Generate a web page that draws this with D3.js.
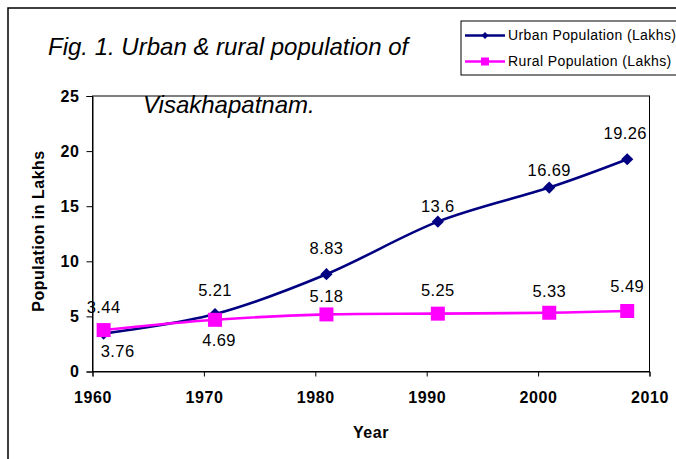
<!DOCTYPE html>
<html>
<head>
<meta charset="utf-8">
<script src="https://cdn.jsdelivr.net/npm/d3@7"></script>
<style>
  body { margin: 0; background: #fff; }
  svg text { font-family: "Liberation Sans", Arial, sans-serif; }
</style>
</head>
<body>
<div id="chart"></div>
<script>
  const width = 676;
  const height = 459;

  // data
  const years = [1961, 1971, 1981, 1991, 2001, 2008];
  const urban = [3.44, 5.21, 8.83, 13.6, 16.69, 19.26];
  const rural = [3.76, 4.69, 5.18, 5.25, 5.33, 5.49];
  const xTicks = [1960, 1970, 1980, 1990, 2000, 2010];
  const yTicks = [0, 5, 10, 15, 20, 25];
  const seriesNames = ["Urban Population (Lakhs)", "Rural Population (Lakhs)"];

  // label nudges (px, relative to the marker)
  const urbanLabelDx = [0, 0, 0, 0, 0, -2];
  const urbanLabelDy = [-26, -24, -26, -15, -17, -26];
  const ruralLabelDx = [14, 4, 0, 0, 0, 0];
  const ruralLabelDy = [21, 20, -18, -23, -22, -25];

  const plot = { left: 92.5, right: 649.5, top: 96, bottom: 371.5 };

  const svg = d3.select("#chart")
    .append("svg")
    .attr("width", width)
    .attr("height", height);

  svg.append("rect")
    .attr("width", width).attr("height", height)
    .attr("fill", "#fff");

  // outer chart frame (runs past the right/bottom edge)
  svg.append("rect")
    .attr("x", 8).attr("y", 8)
    .attr("width", 720).attr("height", 520)
    .attr("fill", "none")
    .attr("stroke", "#000")
    .attr("stroke-width", 1.5);

  const x = d3.scaleLinear()
    .domain([1960, 2010])
    .range([plot.left, plot.right]);

  const y = d3.scaleLinear()
    .domain([0, 25])
    .range([plot.bottom, plot.top]);

  // plot area border
  svg.append("rect")
    .attr("x", plot.left).attr("y", plot.top)
    .attr("width", plot.right - plot.left)
    .attr("height", plot.bottom - plot.top)
    .attr("fill", "#fff")
    .attr("stroke", "#000")
    .attr("stroke-width", 1);

  // X axis
  const xAxis = svg.append("g")
    .attr("transform", `translate(0,${plot.bottom})`)
    .call(d3.axisBottom(x).tickValues(xTicks).tickFormat(d3.format("d")).tickSizeOuter(0).tickSize(5).tickPadding(15));
  xAxis.select(".domain").attr("stroke", "#000");
  xAxis.selectAll("text")
    .attr("font-size", "16px")
    .attr("font-weight", "bold")
    .attr("letter-spacing", "0.6px")
    .attr("fill", "#000");

  // Y axis
  const yAxis = svg.append("g")
    .attr("transform", `translate(${plot.left},0)`)
    .call(d3.axisLeft(y).tickValues(yTicks).tickSizeOuter(0).tickSize(6).tickPadding(7));
  yAxis.select(".domain").attr("stroke", "#000");
  yAxis.selectAll("text")
    .attr("font-size", "16px")
    .attr("font-weight", "bold")
    .attr("letter-spacing", "0.6px")
    .attr("fill", "#000");

  // axis titles
  svg.append("text")
    .attr("x", (plot.left + plot.right) / 2)
    .attr("y", 438)
    .attr("text-anchor", "middle")
    .attr("font-size", "16px")
    .attr("font-weight", "bold")
    .attr("letter-spacing", "0.6px")
    .text("Year");

  svg.append("text")
    .attr("transform", "translate(44,231) rotate(-90)")
    .attr("text-anchor", "middle")
    .attr("font-size", "16px")
    .attr("font-weight", "bold")
    .attr("letter-spacing", "0.5px")
    .text("Population in Lakhs");

  const line = d3.line()
    .x(d => x(d[0]))
    .y(d => y(d[1]))
    .curve(d3.curveCatmullRom.alpha(0));

  const urbanPts = years.map((yr, i) => [yr, urban[i]]);
  const ruralPts = years.map((yr, i) => [yr, rural[i]]);

  const navy = "#000080";
  const magenta = "#ff00ff";

  // urban series
  svg.append("path")
    .datum(urbanPts)
    .attr("d", line)
    .attr("fill", "none")
    .attr("stroke", navy)
    .attr("stroke-width", 2.6);

  svg.append("g")
    .selectAll("path")
    .data(urbanPts)
    .join("path")
    .attr("d", d3.symbol(d3.symbolDiamond2, 95))
    .attr("transform", d => `translate(${x(d[0])},${y(d[1])})`)
    .attr("fill", navy);

  // rural series
  svg.append("path")
    .datum(ruralPts)
    .attr("d", line)
    .attr("fill", "none")
    .attr("stroke", magenta)
    .attr("stroke-width", 2.6);

  svg.append("g")
    .selectAll("rect")
    .data(ruralPts)
    .join("rect")
    .attr("x", d => x(d[0]) - 7)
    .attr("y", d => y(d[1]) - 7)
    .attr("width", 14)
    .attr("height", 14)
    .attr("fill", magenta);

  // data labels
  svg.append("g")
    .selectAll("text")
    .data(urbanPts)
    .join("text")
    .attr("x", (d, i) => x(d[0]) + urbanLabelDx[i])
    .attr("y", (d, i) => y(d[1]) + urbanLabelDy[i])
    .attr("dy", "0.35em")
    .attr("text-anchor", "middle")
    .attr("font-size", "16.5px")
    .attr("letter-spacing", "0.4px")
    .text(d => d[1]);

  svg.append("g")
    .selectAll("text")
    .data(ruralPts)
    .join("text")
    .attr("x", (d, i) => x(d[0]) + ruralLabelDx[i])
    .attr("y", (d, i) => y(d[1]) + ruralLabelDy[i])
    .attr("dy", "0.35em")
    .attr("text-anchor", "middle")
    .attr("font-size", "16.5px")
    .attr("letter-spacing", "0.4px")
    .text(d => d[1]);

  // title (two lines, italic)
  svg.append("text")
    .attr("x", 48).attr("y", 55)
    .attr("font-size", "24px")
    .attr("font-style", "italic")
    .text("Fig. 1. Urban & rural population of");

  svg.append("text")
    .attr("x", 143).attr("y", 113)
    .attr("font-size", "24px")
    .attr("font-style", "italic")
    .text("Visakhapatnam.");

  // legend
  const legend = svg.append("g");
  legend.append("rect")
    .attr("x", 461).attr("y", 21)
    .attr("width", 260).attr("height", 54)
    .attr("fill", "#fff")
    .attr("stroke", "#000")
    .attr("stroke-width", 1);

  const legendRows = [
    { name: seriesNames[0], color: navy, shape: "diamond" },
    { name: seriesNames[1], color: magenta, shape: "square" }
  ];

  legendRows.forEach((r, i) => {
    const ly = 35.5 + i * 26;
    legend.append("line")
      .attr("x1", 465).attr("x2", 505)
      .attr("y1", ly).attr("y2", ly)
      .attr("stroke", r.color)
      .attr("stroke-width", 2.6);
    if (r.shape === "diamond") {
      legend.append("path")
        .attr("d", d3.symbol(d3.symbolDiamond2, 30))
        .attr("transform", `translate(485,${ly})`)
        .attr("fill", r.color);
    } else {
      legend.append("rect")
        .attr("x", 481).attr("y", ly - 4)
        .attr("width", 8).attr("height", 8)
        .attr("fill", r.color);
    }
    legend.append("text")
      .attr("x", 508).attr("y", ly)
      .attr("dy", "0.35em")
      .attr("font-size", "14px")
      .attr("letter-spacing", "0.4px")
      .text(r.name);
  });
</script>
</body>
</html>
